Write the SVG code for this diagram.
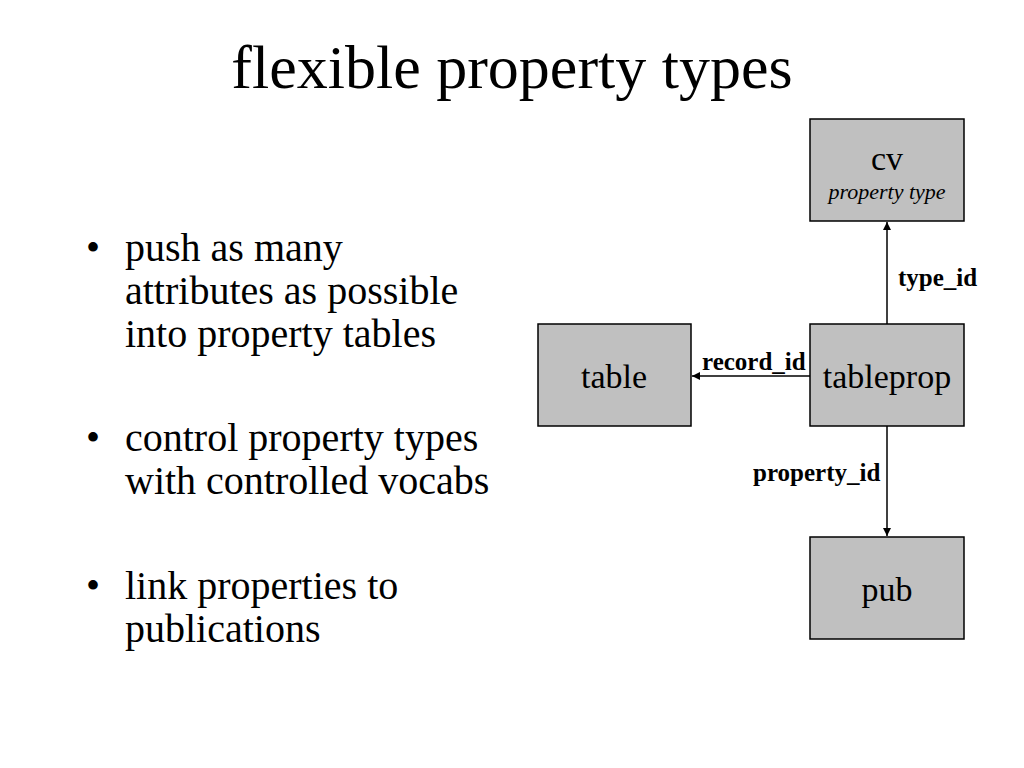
<svg xmlns="http://www.w3.org/2000/svg" width="1024" height="768" viewBox="0 0 1024 768">
<defs>
<marker id="arr" viewBox="0 0 10 10" refX="10" refY="5" markerWidth="9" markerHeight="8" markerUnits="userSpaceOnUse" orient="auto">
<path d="M0,0 L10,5 L0,10 z" fill="#000"/>
</marker>
<style>
text{font-family:"Liberation Serif","Times New Roman",serif;fill:#000}
.box{fill:#c0c0c0;stroke:#000;stroke-width:1.5}
.lbl{font-size:34px;text-anchor:middle}
.edge{font-size:25px;font-weight:bold}
.bul{font-size:40px}
.con{stroke:#000;stroke-width:1.5;fill:none;marker-end:url(#arr)}
</style>
</defs>
<rect width="1024" height="768" fill="#fff"/>
<text x="512" y="88" font-size="62" text-anchor="middle">flexible property types</text>
<g id="bullets">
<text class="bul" x="86" y="261">•</text>
<text class="bul" x="125" y="261">push as many</text>
<text class="bul" x="125" y="304">attributes as possible</text>
<text class="bul" x="125" y="347">into property tables</text>
<text class="bul" x="86" y="451">•</text>
<text class="bul" x="125" y="451">control property types</text>
<text class="bul" x="125" y="494">with controlled vocabs</text>
<text class="bul" x="86" y="599">•</text>
<text class="bul" x="125" y="599">link properties to</text>
<text class="bul" x="125" y="642">publications</text>
</g>
<g id="connectors">
<line class="con" x1="887" y1="324" x2="887" y2="222"/>
<line class="con" x1="810" y1="376" x2="692" y2="376"/>
<line class="con" x1="887" y1="426" x2="887" y2="536"/>
<text class="edge" x="898" y="286">type_id</text>
<text class="edge" x="702" y="370">record_id</text>
<text class="edge" x="753" y="481">property_id</text>
</g>
<g id="cv">
<rect class="box" x="810" y="119" width="154" height="102"/>
<text class="lbl" x="887" y="170">cv</text>
<text x="887" y="199" font-size="22" font-style="italic" text-anchor="middle">property type</text>
</g>
<g id="tableprop">
<rect class="box" x="810" y="324" width="154" height="102"/>
<text class="lbl" x="887" y="388">tableprop</text>
</g>
<g id="table">
<rect class="box" x="538" y="324" width="153" height="102"/>
<text class="lbl" x="614" y="388">table</text>
</g>
<g id="pub">
<rect class="box" x="810" y="537" width="154" height="102"/>
<text class="lbl" x="887" y="601">pub</text>
</g>
</svg>
